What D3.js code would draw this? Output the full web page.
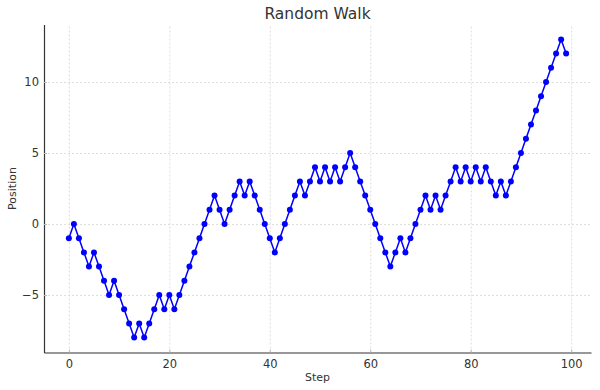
<!DOCTYPE html>
<html>
<head>
<meta charset="utf-8">
<script src="https://cdn.jsdelivr.net/npm/d3@7"></script>
<style>
  body { margin: 0; background: #fff; }
  text { font-family: "DejaVu Sans", sans-serif; fill: #333; }
  .grid line { stroke: #d4d4d4; stroke-dasharray: 2,2; stroke-width: 0.8; }
  .grid .domain { display: none; }
  .axis .domain { stroke: #333; stroke-width: 1.2; }
  .axis line { stroke: #bbb; }
</style>
</head>
<body>
<svg id="chart" width="600" height="390"></svg>
<script>
// random walk positions, one per step
var steps = d3.range(100);
var positions = [
  -1, 0, -1, -2, -3, -2, -3, -4, -5, -4,
  -5, -6, -7, -8, -7, -8, -7, -6, -5, -6,
  -5, -6, -5, -4, -3, -2, -1, 0, 1, 2,
  1, 0, 1, 2, 3, 2, 3, 2, 1, 0,
  -1, -2, -1, 0, 1, 2, 3, 2, 3, 4,
  3, 4, 3, 4, 3, 4, 5, 4, 3, 2,
  1, 0, -1, -2, -3, -2, -1, -2, -1, 0,
  1, 2, 1, 2, 1, 2, 3, 4, 3, 4,
  3, 4, 3, 4, 3, 2, 3, 2, 3, 4,
  5, 6, 7, 8, 9, 10, 11, 12, 13, 12
];
var xTicks = [0, 20, 40, 60, 80, 100];
var yTicks = [-5, 0, 5, 10];

var svg = d3.select("#chart"),
    margin = {top: 24.5, right: 9, bottom: 37.5, left: 44},
    width = +svg.attr("width") - margin.left - margin.right,
    height = +svg.attr("height") - margin.top - margin.bottom;

var data = steps.map(function(s, i) { return {step: s, pos: positions[i]}; });

var xPad = (d3.max(steps) - d3.min(steps)) * 0.05,
    yPad = (d3.max(positions) - d3.min(positions)) * 0.05;

var x = d3.scaleLinear()
    .domain([d3.min(steps) - xPad, d3.max(steps) + xPad])
    .range([0, width]);
var y = d3.scaleLinear()
    .domain([d3.min(positions) - yPad, d3.max(positions) + yPad])
    .range([height, 0]);

var g = svg.append("g")
    .attr("transform", "translate(" + margin.left + "," + margin.top + ")");

// grid
g.append("g")
    .attr("class", "grid")
    .attr("transform", "translate(0," + height + ")")
    .call(d3.axisBottom(x).tickValues(xTicks).tickSize(-height).tickFormat(""));
g.append("g")
    .attr("class", "grid")
    .call(d3.axisLeft(y).tickValues(yTicks).tickSize(-width).tickFormat(""));

// axes
g.append("g")
    .attr("class", "axis")
    .attr("transform", "translate(0," + height + ")")
    .call(d3.axisBottom(x).tickValues(xTicks).tickSizeInner(-3).tickSizeOuter(0).tickPadding(7));
g.append("g")
    .attr("class", "axis")
    .call(d3.axisLeft(y).tickValues(yTicks).tickSizeInner(-3).tickSizeOuter(0).tickPadding(5)
      .tickFormat(function(d) { return d < 0 ? "\u2212" + Math.abs(d) : d; }));
svg.selectAll(".axis text").attr("font-size", 11.5).style("fill", "#333");

// line + markers
g.append("path")
    .datum(data)
    .attr("fill", "none")
    .attr("stroke", "#0000ff")
    .attr("stroke-width", 1.5)
    .attr("d", d3.line()
      .x(function(d) { return x(d.step); })
      .y(function(d) { return y(d.pos); }));

g.selectAll(".dot")
    .data(data)
    .enter().append("circle")
    .attr("class", "dot")
    .attr("cx", function(d) { return x(d.step); })
    .attr("cy", function(d) { return y(d.pos); })
    .attr("r", 3)
    .attr("fill", "#0000ff");

// labels
svg.append("text")
    .attr("x", margin.left + width / 2)
    .attr("y", 19)
    .attr("text-anchor", "middle")
    .attr("font-size", 15.5)
    .text("Random Walk");

svg.append("text")
    .attr("x", margin.left + width / 2)
    .attr("y", 381)
    .attr("text-anchor", "middle")
    .attr("font-size", 11)
    .text("Step");

svg.append("text")
    .attr("transform", "translate(16," + (margin.top + height / 2) + ") rotate(-90)")
    .attr("text-anchor", "middle")
    .attr("font-size", 11)
    .text("Position");
</script>
</body>
</html>
